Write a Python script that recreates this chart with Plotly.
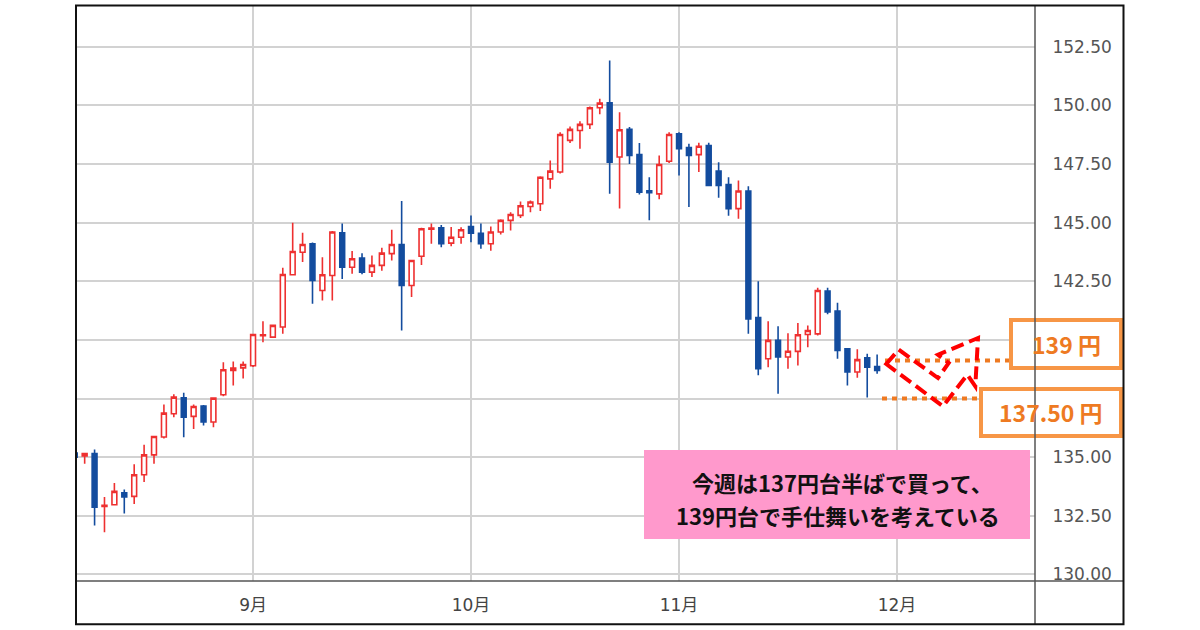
import plotly.graph_objects as go

# ---------------- data ----------------
dates = [
    "2022-08-08", "2022-08-09", "2022-08-10", "2022-08-11", "2022-08-12",
    "2022-08-15", "2022-08-16", "2022-08-17", "2022-08-18", "2022-08-19",
    "2022-08-22", "2022-08-23", "2022-08-24", "2022-08-25", "2022-08-26",
    "2022-08-29", "2022-08-30", "2022-08-31",
    "2022-09-01", "2022-09-02", "2022-09-05", "2022-09-06", "2022-09-07",
    "2022-09-08", "2022-09-09", "2022-09-12", "2022-09-13", "2022-09-14",
    "2022-09-15", "2022-09-16", "2022-09-19", "2022-09-20", "2022-09-21",
    "2022-09-22", "2022-09-23", "2022-09-26", "2022-09-27", "2022-09-28",
    "2022-09-29", "2022-09-30",
    "2022-10-03", "2022-10-04", "2022-10-05", "2022-10-06", "2022-10-07",
    "2022-10-10", "2022-10-11", "2022-10-12", "2022-10-13", "2022-10-14",
    "2022-10-17", "2022-10-18", "2022-10-19", "2022-10-20", "2022-10-21",
    "2022-10-24", "2022-10-25", "2022-10-26", "2022-10-27", "2022-10-28",
    "2022-10-31",
    "2022-11-01", "2022-11-02", "2022-11-03", "2022-11-04", "2022-11-07",
    "2022-11-08", "2022-11-09", "2022-11-10", "2022-11-11", "2022-11-14",
    "2022-11-15", "2022-11-16", "2022-11-17", "2022-11-18", "2022-11-21",
    "2022-11-22", "2022-11-23", "2022-11-24", "2022-11-25", "2022-11-28",
    "2022-11-29",
]
open_ = [
    135.18, 135.05, 135.15, 132.90, 132.97, 133.48, 133.33, 134.25, 135.10, 135.86,
    136.85, 137.53, 136.74, 137.18, 136.50, 137.66, 138.70, 138.81,
    138.90, 140.18, 140.12, 140.55, 142.78, 143.74, 144.10, 142.11, 142.75, 144.57,
    143.10, 143.49, 142.89, 143.18, 143.68, 144.07, 142.32, 143.57, 144.72, 144.78,
    144.13, 144.38,
    144.84, 144.55, 144.10, 144.60, 145.10, 145.31, 145.69, 145.81, 146.87, 147.16,
    148.51, 148.93, 149.19, 149.90, 150.11, 147.80, 148.98, 147.91, 146.36, 146.23,
    147.62,
    148.79, 148.20, 147.90, 148.29, 147.20, 146.63, 145.60, 146.35, 140.95, 139.20,
    139.98, 139.27, 139.51, 140.23, 140.26, 142.08, 141.23, 139.62, 138.63, 139.24,
    138.87,
]
high = [
    135.40, 135.18, 135.33, 133.30, 133.90, 133.62, 134.70, 135.53, 135.90, 137.25,
    137.68, 137.75, 137.25, 137.22, 137.55, 139.05, 139.08, 139.08,
    140.25, 140.80, 140.65, 143.08, 145.00, 144.57, 144.15, 143.53, 144.65, 144.96,
    143.79, 143.70, 143.60, 143.93, 144.70, 145.92, 143.40, 144.78, 144.96, 144.90,
    144.82, 144.80,
    145.31, 144.96, 144.84, 145.15, 145.45, 145.90, 145.95, 146.98, 147.65, 148.86,
    149.10, 149.33, 149.95, 150.29, 151.92, 149.71, 149.08, 148.40, 146.94, 147.87,
    148.86,
    148.86, 148.37, 148.41, 148.41, 147.58, 146.94, 146.80, 146.55, 142.50, 140.80,
    140.58, 140.29, 140.72, 140.62, 142.23, 142.23, 141.59, 139.65, 139.60, 139.41,
    139.38,
]
low = [
    134.90, 134.72, 132.09, 131.80, 132.95, 132.60, 133.00, 133.94, 134.72, 135.80,
    136.70, 135.85, 136.20, 136.35, 136.28, 137.60, 138.06, 138.35,
    138.85, 139.90, 140.10, 140.26, 142.75, 143.32, 141.54, 141.68, 141.68, 142.60,
    142.82, 142.80, 142.68, 142.95, 143.39, 140.40, 141.83, 143.20, 144.10, 143.95,
    144.00, 144.10,
    144.17, 143.89, 143.80, 144.50, 144.67, 145.20, 145.45, 145.50, 146.45, 147.10,
    148.40, 148.15, 149.00, 149.62, 146.23, 145.60, 147.50, 146.20, 145.10, 146.00,
    147.55,
    147.01, 145.67, 147.16, 146.55, 146.06, 145.30, 145.17, 140.26, 138.49, 138.84,
    137.70, 138.77, 138.91, 139.69, 140.19, 141.10, 139.20, 138.06, 138.39, 137.54,
    138.56,
]
close = [
    135.00, 135.15, 132.87, 132.95, 133.54, 133.30, 134.25, 135.10, 135.88, 136.88,
    137.56, 136.70, 137.16, 136.50, 137.52, 138.73, 138.80, 138.95,
    140.23, 140.22, 140.62, 142.79, 143.77, 144.07, 142.54, 142.78, 144.60, 143.10,
    143.46, 142.89, 143.18, 143.70, 144.07, 142.32, 143.39, 144.74, 144.77, 144.10,
    144.38, 144.70,
    144.55, 144.10, 144.60, 145.10, 145.35, 145.72, 145.88, 146.94, 147.20, 148.76,
    148.98, 149.19, 149.90, 150.10, 147.58, 148.96, 147.87, 146.30, 146.28, 147.48,
    148.76,
    148.15, 147.87, 148.26, 146.59, 146.59, 145.60, 146.35, 140.90, 138.77, 139.98,
    139.27, 139.52, 140.22, 140.40, 142.11, 141.19, 139.55, 138.63, 139.16, 138.84,
    138.70,
]

month_ticks = ["2022-09-01", "2022-10-03", "2022-11-01", "2022-12-01"]
month_labels = ["9月", "10月", "11月", "12月"]

price_ticks = [130.0, 132.5, 135.0, 137.5, 140.0, 142.5, 145.0, 147.5, 150.0, 152.5]
# 137.50 and 140.00 sit behind the orange label boxes in the original
price_labels = ["130.00", "132.50", "135.00", "", "", "142.50", "145.00",
                "147.50", "150.00", "152.50"]

levels = [139.12, 137.50]
level_labels = ["139 円", "137.50 円"]
note_lines = ["今週は137円台半ばで買って、", "139円台で手仕舞いを考えている"]

# ---------------- layout helpers (pixel -> paper) ----------------
W, H = 1200, 630
L, R, T, B = 76, 1035, 6, 581


def px(x):
    return (x - L) / (R - L)


def py(y):
    return (B - y) / (B - T)


RED = "#EE3030"
BLUE = "#134C9E"
ORANGE = "#EE7A22"
BOX_ORANGE = "#F79646"
PINK = "#FF99CC"

fig = go.Figure()
fig.add_trace(go.Candlestick(
    x=dates, open=open_, high=high, low=low, close=close,
    increasing=dict(line=dict(color=RED, width=1.6), fillcolor="white"),
    decreasing=dict(line=dict(color=BLUE, width=1.6), fillcolor=BLUE),
    whiskerwidth=0, showlegend=False, hoverinfo="skip",
))

shapes = []
# pink note box
shapes.append(dict(type="rect", xref="paper", yref="paper",
                   x0=px(644), x1=px(1030), y0=py(539), y1=py(450),
                   fillcolor=PINK, line=dict(width=0), layer="above"))
# orange dotted level lines
shapes.append(dict(type="line", xref="paper", yref="y",
                   x0=px(885), x1=px(1010), y0=levels[0], y1=levels[0],
                   line=dict(color=ORANGE, width=4, dash="5px,5px"), layer="above"))
shapes.append(dict(type="line", xref="paper", yref="y",
                   x0=px(882), x1=px(979), y0=levels[1], y1=levels[1],
                   line=dict(color=ORANGE, width=4, dash="5px,5px"), layer="above"))
# red dashed zig-zag arrow outline
pts = [(886.3, 364), (898.7, 349.7), (938, 378), (948.7, 363), (938, 354.7),
       (978, 338), (975.3, 386.3), (967.3, 374.7), (943, 406.3)]
path = "M " + " L ".join(f"{px(a):.5f},{py(b):.5f}" for a, b in pts) + " Z"
shapes.append(dict(type="path", xref="paper", yref="paper", path=path,
                   line=dict(color="#FF0000", width=4, dash="13px,6px"), layer="above"))
# orange label boxes
shapes.append(dict(type="rect", xref="paper", yref="paper",
                   x0=px(1011), x1=px(1121), y0=py(368), y1=py(320),
                   fillcolor="white", line=dict(color=BOX_ORANGE, width=4), layer="above"))
shapes.append(dict(type="rect", xref="paper", yref="paper",
                   x0=px(981), x1=px(1121), y0=py(436), y1=py(389),
                   fillcolor="white", line=dict(color=BOX_ORANGE, width=4), layer="above"))
# separators and outer border
shapes.append(dict(type="line", xref="paper", yref="paper",
                   x0=px(1035), x1=px(1035), y0=py(624.3), y1=py(5.5),
                   line=dict(color="#555555", width=1.5), layer="above"))
shapes.append(dict(type="line", xref="paper", yref="paper",
                   x0=px(76), x1=px(1123.5), y0=py(581), y1=py(581),
                   line=dict(color="#555555", width=1.5), layer="above"))
shapes.append(dict(type="rect", xref="paper", yref="paper",
                   x0=px(76), x1=px(1123.5), y0=py(624.3), y1=py(5.5),
                   line=dict(color="#111111", width=2), layer="above"))

cjk = "Noto Sans CJK JP"
annotations = [
    dict(xref="paper", yref="paper", x=px(1066), y=py(344), text=level_labels[0],
         showarrow=False, xanchor="center", yanchor="middle",
         font=dict(family=cjk, size=23, color=ORANGE, weight="bold")),
    dict(xref="paper", yref="paper", x=px(1051), y=py(412), text=level_labels[1],
         showarrow=False, xanchor="center", yanchor="middle",
         font=dict(family=cjk, size=23, color=ORANGE, weight="bold")),
    dict(xref="paper", yref="paper", x=px(842), y=py(482), text=note_lines[0],
         showarrow=False, xanchor="center", yanchor="middle",
         font=dict(family=cjk, size=22, color="#111111", weight="bold")),
    dict(xref="paper", yref="paper", x=px(838), y=py(515), text=note_lines[1],
         showarrow=False, xanchor="center", yanchor="middle",
         font=dict(family=cjk, size=22, color="#111111", weight="bold")),
]

fig.update_layout(
    width=W, height=H,
    margin=dict(l=L, r=W - R, t=T, b=H - B, pad=0),
    paper_bgcolor="white", plot_bgcolor="white",
    showlegend=False,
    shapes=shapes, annotations=annotations,
    xaxis=dict(
        type="date",
        range=["2022-08-08 03:00", "2022-12-20 22:30"],
        rangebreaks=[dict(bounds=["sat", "mon"])],
        rangeslider=dict(visible=False),
        tickmode="array", tickvals=month_ticks, ticktext=month_labels,
        showgrid=True, gridcolor="#D2D2D2", gridwidth=1.5,
        ticks="outside", ticklen=9, tickcolor="rgba(0,0,0,0)",
        tickfont=dict(family="DejaVu Sans, " + cjk, size=17, color="#444444"),
        showline=False, zeroline=False, fixedrange=True,
    ),
    yaxis=dict(
        side="right",
        range=[129.72, 154.24],
        tickmode="array", tickvals=price_ticks, ticktext=price_labels,
        showgrid=True, gridcolor="#D2D2D2", gridwidth=1.5,
        ticks="outside", ticklen=13, tickcolor="rgba(0,0,0,0)",
        tickfont=dict(family="DejaVu Sans", size=17, color="#555555"),
        showline=False, zeroline=False, fixedrange=True,
    ),
)

fig.write_html("out.html", config={"displayModeBar": False},
               post_script="document.body.style.margin='0px';document.body.style.padding='0px';")
